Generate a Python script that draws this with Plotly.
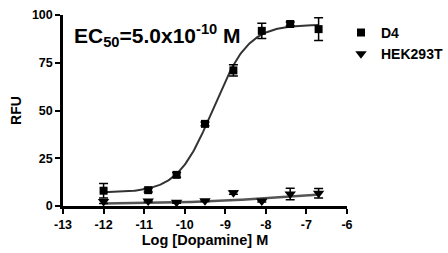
import numpy as np
import plotly.graph_objects as go

# Data
log_dose = [-12.0, -10.9, -10.2, -9.5, -8.8, -8.1, -7.4, -6.7]
d4_rfu = [8.0, 8.3, 16.3, 43.0, 71.0, 91.7, 95.3, 92.6]
d4_err = [3.8, 1.0, 1.2, 1.0, 3.0, 4.0, 1.0, 6.0]
hek_rfu = [2.3, 2.6, 1.9, 2.8, 7.0, 2.6, 6.3, 6.7]
hek_err = [1.0, 0.5, 0.5, 0.5, 0.8, 0.5, 3.0, 2.5]

# Fit parameters (4-parameter logistic)
d4_fit = dict(bottom=7.0, top=95.0, logec50=-9.3, hill=1.0)
hek_fit = dict(bottom=1.0, top=10.0, logec50=-7.0, hill=0.3)

x_ticks = [-13, -12, -11, -10, -9, -8, -7, -6]
y_ticks = [0, 25, 50, 75, 100]


def logistic(x, bottom, top, logec50, hill):
    return bottom + (top - bottom) / (1 + 10 ** ((logec50 - x) * hill))


xf = np.linspace(min(log_dose), max(log_dose), 200)
FONT = "Liberation Sans, Arial, sans-serif"

W, H = 448, 253
L, R, T, B = 63, 0, 15, 47
PLOT_W = 284
paper_w = W - L - R

fig = go.Figure()
fig.add_trace(go.Scatter(x=xf, y=logistic(xf, **d4_fit), mode="lines",
                         line=dict(color="#333333", width=2), showlegend=False, hoverinfo="skip"))
fig.add_trace(go.Scatter(x=xf, y=logistic(xf, **hek_fit), mode="lines",
                         line=dict(color="#555555", width=2.5), showlegend=False, hoverinfo="skip"))
fig.add_trace(go.Scatter(x=log_dose, y=d4_rfu, mode="markers", name="<b>D4</b>",
                         marker=dict(symbol="square", size=8, color="black"),
                         error_y=dict(type="data", array=d4_err, color="black", thickness=1.5, width=4.5)))
fig.add_trace(go.Scatter(x=log_dose, y=hek_rfu, mode="markers", name="<b>HEK293T</b>",
                         marker=dict(symbol="triangle-down", size=10, color="black"),
                         error_y=dict(type="data", array=hek_err, color="black", thickness=1.5, width=4.5)))

fig.add_annotation(x=-12.78, y=89.5, xref="x", yref="y", xanchor="left", yanchor="middle",
                   text="<b>EC<sub>50</sub>=5.0x10<sup>-10</sup> M</b>", showarrow=False,
                   font=dict(size=21, color="black", family=FONT))

axis_common = dict(showline=True, linecolor="black", linewidth=2.5, ticks="outside",
                   ticklen=5, tickwidth=2, tickcolor="black", showgrid=False, zeroline=False,
                   automargin=False,
                   tickfont=dict(size=12.5, color="black", family=FONT))

fig.update_layout(
    width=W, height=H,
    margin=dict(l=L, r=R, t=T, b=B),
    plot_bgcolor="white", paper_bgcolor="white",
    font=dict(family=FONT, color="black"),
    xaxis=dict(range=[-13, -6], domain=[0, PLOT_W / paper_w],
               tickvals=x_ticks, ticktext=[f"<b>{t}</b>" for t in x_ticks],
               title=dict(text="<b>Log [Dopamine] M</b>", standoff=5,
                          font=dict(size=14.5, family=FONT)), **axis_common),
    yaxis=dict(range=[0, 100], tickvals=y_ticks, ticktext=[f"<b>{t}</b>" for t in y_ticks],
               title=dict(text="<b>RFU</b>", standoff=7,
                          font=dict(size=14, family=FONT)), **axis_common),
    legend=dict(x=1.0, y=0.99, xanchor="right", yanchor="top",
                bgcolor="rgba(0,0,0,0)", font=dict(size=14, family=FONT), tracegroupgap=0),
)

fig.write_html("out.html", config={"displayModeBar": False},
               post_script="document.body.style.margin='0';document.body.style.padding='0';")
